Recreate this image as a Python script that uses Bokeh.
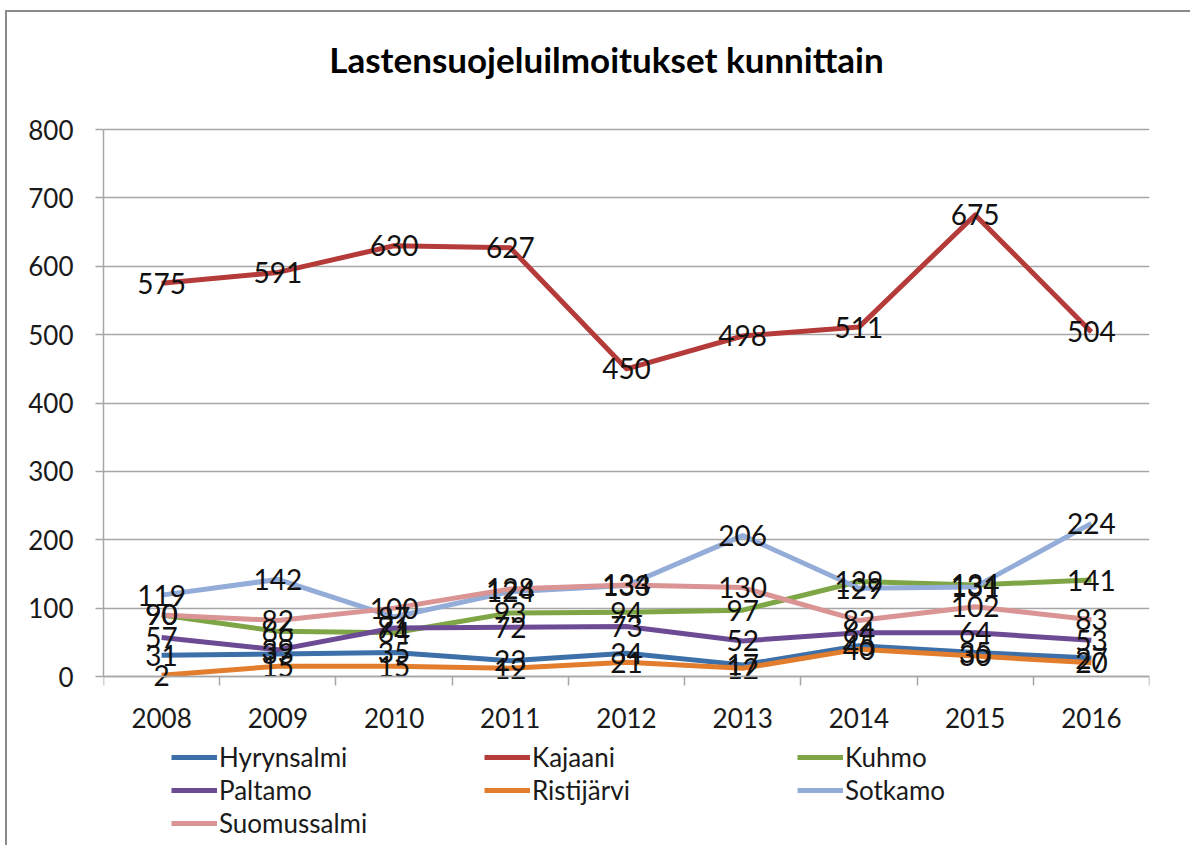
from bokeh.plotting import figure
from bokeh.models import FixedTicker, Legend, LegendItem, Range1d, ColumnDataSource, Label
from bokeh.embed import file_html
from bokeh.resources import INLINE
from bokeh.core.properties import value

title_text = "Lastensuojeluilmoitukset kunnittain"
years = ["2008", "2009", "2010", "2011", "2012", "2013", "2014", "2015", "2016"]
hyrynsalmi = [31, 33, 35, 23, 34, 17, 45, 35, 27]
kajaani = [575, 591, 630, 627, 450, 498, 511, 675, 504]
kuhmo = [90, 66, 64, 93, 94, 97, 139, 134, 141]
paltamo = [57, 39, 71, 72, 73, 52, 64, 64, 53]
ristijarvi = [2, 15, 15, 12, 21, 12, 40, 30, 20]
sotkamo = [119, 142, 87, 124, 133, 206, 129, 131, 224]
suomussalmi = [90, 82, 100, 128, 134, 130, 82, 102, 83]

series_names = ["Hyrynsalmi", "Kajaani", "Kuhmo", "Paltamo", "Ristijärvi", "Sotkamo", "Suomussalmi"]
series_values = [hyrynsalmi, kajaani, kuhmo, paltamo, ristijarvi, sotkamo, suomussalmi]
series_colors = ["#3d6fa8", "#b43b39", "#7fa646", "#6d4b94", "#e37d2e", "#93acd8", "#d99493"]

FONT = "Lato"
y_ticks = [0, 100, 200, 300, 400, 500, 600, 700, 800]
y_max = 800

# layout (pixels): frame covers the full height; value band 0..800 sits inside it
W, H = 1190, 845
band_top, band_bottom = 129, 676          # canvas y of 800 and of 0
px_per_unit = (band_bottom - band_top) / y_max
range_top = y_max + band_top / px_per_unit
range_bottom = -(H - band_bottom) / px_per_unit

xs = [i + 0.5 for i in range(len(years))]

p = figure(width=W, height=H, output_backend="svg", toolbar_location=None,
           x_range=Range1d(0, len(years)), y_range=Range1d(range_bottom, range_top),
           min_border_left=103, min_border_right=41, min_border_top=0, min_border_bottom=0)
p.border_fill_color = None
p.background_fill_color = None
p.styles = {"background": "linear-gradient(#8a8a8a,#8a8a8a) 5px 10px / 2px 100% no-repeat, "
                          "linear-gradient(#8a8a8a,#8a8a8a) 5px 10px / 100% 2px no-repeat, #ffffff"}

p.add_layout(Label(x=503, y=H - 58, x_units="screen", y_units="screen", text=title_text,
                   text_font=FONT, text_font_size="35px", text_font_style="bold",
                   text_align="center", text_baseline="middle", text_color="#000000"))

p.outline_line_color = None
p.xgrid.grid_line_color = None
p.ygrid.grid_line_color = "#a6a6a6"
p.ygrid.grid_line_width = 1.5
p.ygrid.ticker = FixedTicker(ticks=y_ticks)

p.yaxis.ticker = FixedTicker(ticks=y_ticks)
p.yaxis.bounds = (0, y_max)
p.yaxis.axis_line_color = "#a6a6a6"
p.yaxis.axis_line_width = 1.5
p.yaxis.major_tick_line_color = "#a6a6a6"
p.yaxis.major_tick_line_width = 1.5
p.yaxis.major_tick_out = 8
p.yaxis.major_tick_in = 0
p.yaxis.minor_tick_line_color = None
p.yaxis.major_label_text_font = FONT
p.yaxis.major_label_text_font_size = "26px"
p.yaxis.major_label_text_color = "#1a1a1a"
p.yaxis.major_label_standoff = 22

p.xaxis.fixed_location = 0
p.xaxis.ticker = FixedTicker(ticks=xs, minor_ticks=list(range(len(years) + 1)))
p.xaxis.major_label_overrides = {x: y for x, y in zip(xs, years)}
p.xaxis.axis_line_color = "#a6a6a6"
p.xaxis.axis_line_width = 1.5
p.xaxis.major_tick_line_color = None
p.xaxis.minor_tick_line_color = "#a6a6a6"
p.xaxis.minor_tick_line_width = 1.5
p.xaxis.minor_tick_out = 9
p.xaxis.minor_tick_in = 0
p.xaxis.major_label_text_font = FONT
p.xaxis.major_label_text_font_size = "26px"
p.xaxis.major_label_text_color = "#1a1a1a"
p.xaxis.major_label_standoff = 22

items = []
for name, vals, col in zip(series_names, series_values, series_colors):
    r = p.line(xs, vals, line_color=col, line_width=5, line_join="round")
    items.append(LegendItem(label=name, renderers=[r]))

for name, vals in zip(series_names, series_values):
    src = ColumnDataSource(dict(x=xs, y=vals, t=[str(v) for v in vals]))
    p.text(x="x", y="y", text="t", source=src, text_align="center", text_baseline="middle",
           text_font=value(FONT), text_font_size="28px", text_color="#111111")

legend = Legend(items=items, orientation="horizontal", ncols=3, location=(68, 6))
legend.label_text_font = FONT
legend.label_text_font_size = "26px"
legend.label_text_color = "#1a1a1a"
legend.glyph_width = 46
legend.glyph_height = 28
legend.label_height = 28
legend.label_width = 264
legend.label_standoff = 2
legend.spacing = 1
legend.padding = 4
legend.margin = 0
legend.border_line_color = None
legend.background_fill_alpha = 0
p.add_layout(legend, "center")

open("out.html", "w").write(file_html(p, INLINE))
